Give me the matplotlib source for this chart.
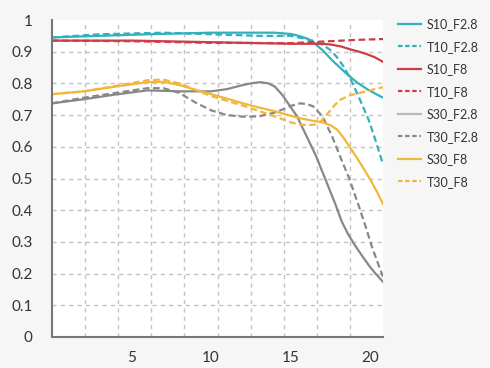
import numpy as np
import matplotlib
matplotlib.use("Agg")
import matplotlib.pyplot as plt
from matplotlib.lines import Line2D

plt.rcParams['font.family'] = ['Lato', 'DejaVu Sans']

# MTF readings (field position vs contrast)
s10_f28_x = [0, 3, 6, 10, 14, 15, 15.5, 16, 16.4, 17, 17.6, 18.2, 18.7, 19.2, 19.8, 20.3, 20.8]
s10_f28_y = [0.945, 0.95, 0.955, 0.96, 0.96, 0.956, 0.95, 0.942, 0.93, 0.905, 0.873, 0.845, 0.822,
             0.802, 0.782, 0.768, 0.755]

t10_f28_x = [0, 3, 7, 10, 13, 15, 16, 16.5, 17, 17.5, 17.9, 18.3, 18.7, 19.2, 19.9, 20.3, 20.8]
t10_f28_y = [0.945, 0.955, 0.96, 0.955, 0.95, 0.95, 0.94, 0.933, 0.922, 0.905, 0.883, 0.855, 0.82,
             0.766, 0.685, 0.625, 0.545]

s10_f8_x = [0, 5, 10, 15, 17, 17.6, 18.2, 18.7, 19.3, 19.8, 20.3, 20.8]
s10_f8_y = [0.935, 0.935, 0.93, 0.925, 0.925, 0.922, 0.916, 0.908, 0.9, 0.892, 0.882, 0.868]

t10_f8_x = [0, 5, 10, 15, 17, 19, 20.8]
t10_f8_y = [0.935, 0.933, 0.928, 0.927, 0.932, 0.937, 0.94]

s30_f28_x = [0, 2, 4, 6, 8, 10, 11, 12, 12.6, 13.1, 13.6, 14, 14.5, 15, 15.4, 16, 16.6, 17.2,
             17.8, 18.2, 18.6, 19, 19.5, 20, 20.4, 20.8]
s30_f28_y = [0.737, 0.75, 0.765, 0.778, 0.775, 0.775, 0.782, 0.795, 0.801, 0.804, 0.8, 0.79,
             0.762, 0.725, 0.696, 0.633, 0.57, 0.495, 0.42, 0.365, 0.325, 0.292, 0.255, 0.22,
             0.196, 0.174]

t30_f28_x = [0, 2, 4, 6, 7, 8, 9, 10, 11, 12, 13, 14, 14.5, 15, 15.6, 16, 16.4, 17, 17.6, 18.1,
             18.7, 19.3, 19.7, 20.1, 20.5, 20.8]
t30_f28_y = [0.737, 0.755, 0.77, 0.785, 0.785, 0.77, 0.74, 0.715, 0.70, 0.695, 0.696, 0.708, 0.718,
             0.729, 0.737, 0.735, 0.728, 0.696, 0.633, 0.57, 0.497, 0.41, 0.35, 0.285, 0.23, 0.19]

s30_f8_x = [0, 2, 4, 6, 7, 8, 9, 10, 11, 12, 13, 14, 15, 15.6, 16.3, 17, 17.5, 17.9, 18.3, 18.7,
            19.1, 19.5, 20, 20.4, 20.8]
s30_f8_y = [0.766, 0.775, 0.79, 0.804, 0.805, 0.795, 0.78, 0.766, 0.752, 0.737, 0.724, 0.712,
            0.698, 0.69, 0.683, 0.677, 0.668, 0.655, 0.63, 0.60, 0.57, 0.538, 0.497, 0.46, 0.42]

t30_f8_x = [0, 2, 4, 6, 7, 8, 9, 10, 11, 12, 13, 14, 15, 15.5, 16, 16.5, 16.9, 17.3, 17.7, 18.1,
            18.7, 19.5, 20.2, 20.8]
t30_f8_y = [0.766, 0.775, 0.792, 0.81, 0.812, 0.80, 0.78, 0.76, 0.745, 0.73, 0.713, 0.696, 0.677,
            0.671, 0.668, 0.67, 0.68, 0.703, 0.728, 0.748, 0.762, 0.772, 0.781, 0.788]

teal = '#33b1bb'
red = '#cc3e45'
gray = '#888888'
yellow = '#f2b73a'

fig = plt.figure(figsize=(4.9, 3.68), dpi=100, facecolor='#f6f6f6')
ax = fig.add_axes([52/490, 1 - 337/368, 331/490, 317/368])
ax.set_facecolor('white')

lw = 1.6
dash = (0, (3, 1.6))
ax.plot(s10_f28_x, s10_f28_y, color=teal, lw=lw)
ax.plot(t10_f28_x, t10_f28_y, color=teal, lw=lw, ls=dash)
ax.plot(s10_f8_x, s10_f8_y, color=red, lw=lw)
ax.plot(t10_f8_x, t10_f8_y, color=red, lw=lw, ls=dash)
ax.plot(s30_f28_x, s30_f28_y, color=gray, lw=lw)
ax.plot(t30_f28_x, t30_f28_y, color=gray, lw=lw, ls=dash)
ax.plot(s30_f8_x, s30_f8_y, color=yellow, lw=lw)
ax.plot(t30_f8_x, t30_f8_y, color=yellow, lw=lw, ls=dash)

xmax = 20.8
ax.set_xlim(0, xmax)
ax.set_ylim(0, 1)
ax.set_xticks([5, 10, 15, 20])
ax.set_yticks(np.arange(0, 1.01, 0.1))
ax.set_yticklabels(['0', '0.1', '0.2', '0.3', '0.4', '0.5', '0.6', '0.7', '0.8', '0.9', '1'])
ax.yaxis.remove_overlapping_locs = False
ax.set_xticks(np.linspace(0, xmax, 11)[1:-1], minor=True)
ax.set_yticks(np.arange(0.1, 0.95, 0.1), minor=True)
ax.grid(False)
ax.grid(which='minor', color='#c2c2c2', ls=(0, (3, 3)), lw=1)
ax.tick_params(which='both', length=0)
ax.tick_params(axis='y', pad=14, labelsize=11, labelcolor='#333333')
ax.tick_params(axis='x', pad=10, labelsize=11, labelcolor='#333333')
for s in ['top', 'right']:
    ax.spines[s].set_visible(False)
for s in ['left', 'bottom']:
    ax.spines[s].set_color('#777777')
    ax.spines[s].set_linewidth(1.5)

names = ['S10_F2.8', 'T10_F2.8', 'S10_F8', 'T10_F8', 'S30_F2.8', 'T30_F2.8', 'S30_F8', 'T30_F8']
handle_colors = [teal, teal, red, red, '#bbbbbb', gray, yellow, yellow]
handles = [Line2D([], [], color=c, lw=1.6, ls='-' if n[0] == 'S' else (0, (2, 1.2)))
           for n, c in zip(names, handle_colors)]
fig.legend(handles, names, loc='upper left', bbox_to_anchor=(392/490, 1 - 12/368),
           frameon=False, fontsize=9, handlelength=1.8, handletextpad=0.5,
           labelspacing=0.84, borderpad=0, labelcolor='#333333')

fig.savefig('out.png', dpi=100, facecolor=fig.get_facecolor())
